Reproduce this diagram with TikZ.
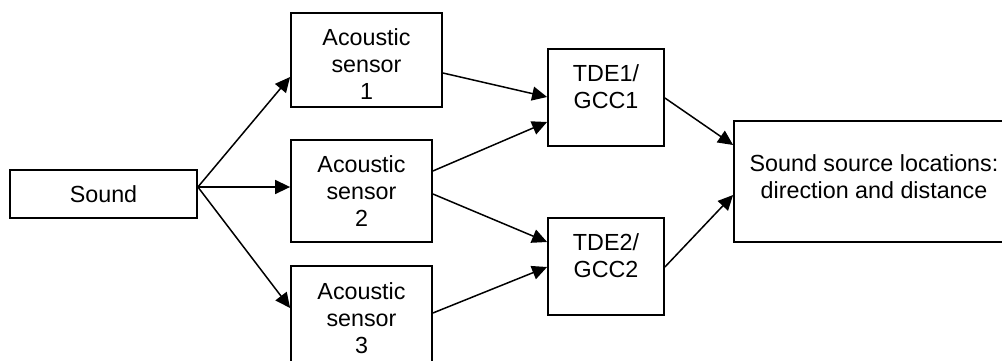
\documentclass[tikz,border=0pt]{standalone}
\usepackage{fontspec}
\setmainfont{Liberation Sans}
\usetikzlibrary{arrows.meta,calc}

\tikzset{
  blockbox/.style={draw=black, line width=1.8pt, rectangle, inner sep=0pt, fill=none},
  blocktext/.style={font=\fontsize{23.3}{27}\selectfont, align=center, inner sep=0pt, text=black},
  flow/.style={draw=black, line width=1.5pt, -{Triangle[length=15pt,width=14pt]}},
}

\begin{document}
\begin{tikzpicture}[x=1pt, y=-1pt]
  \useasboundingbox (0,0) rectangle (1002,361);
  \clip (0,0) rectangle (1002,361);

  % processing blocks
  \node[blockbox, minimum width=187pt, minimum height=48pt,
        label={[blocktext]center:Sound}] (snd) at (103.5,194) {};
  \node[blockbox, minimum width=151pt, minimum height=94pt,
        label={[blocktext, yshift=-4pt]center:Acoustic\\sensor\\1}] (s1) at (366.5,60) {};
  \node[blockbox, minimum width=141pt, minimum height=102pt,
        label={[blocktext]center:Acoustic\\sensor\\2}] (s2) at (361.5,191) {};
  \node[blockbox, minimum width=141pt, minimum height=104pt,
        label={[blocktext]center:Acoustic\\sensor\\3}] (s3) at (361.5,318) {};
  \node[blockbox, minimum width=116pt, minimum height=97pt,
        label={[blocktext, yshift=10.5pt]center:TDE1/\\GCC1}] (t1) at (606,97.5) {};
  \node[blockbox, minimum width=116pt, minimum height=97pt,
        label={[blocktext, yshift=11pt]center:TDE2/\\GCC2}] (t2) at (606,266.5) {};
  \node[blockbox, minimum width=286pt, minimum height=121pt,
        label={[blocktext, xshift=-3pt, yshift=5pt]center:Sound source locations:\\direction and distance}] (loc) at (877,181.5) {};

  % sound reaching the three sensors
  \coordinate (src) at ($(snd.east)+(0,-7)$);
  \draw[flow] (src) -- ($(s1.west)+(0,17)$);
  \draw[flow] (src) -- ($(s2.west)+(0,-4)$);
  \draw[flow] (src) -- ($(s3.west)+(0,-10)$);

  % sensor pairs feeding the delay estimators
  \draw[flow] ($(s1.east)+(0,13)$) -- ($(t1.west)+(0,-0.5)$);
  \draw[flow] ($(s2.east)+(0,-20)$) -- ($(t1.west)+(0,24.5)$);
  \draw[flow] ($(s2.east)+(0,3)$) -- ($(t2.west)+(0,-24.5)$);
  \draw[flow] ($(s3.east)+(0,-5)$) -- ($(t2.west)+(0,0.5)$);

  % estimators combined into the location result
  \draw[flow] ($(t1.east)+(0,0.5)$) -- ($(loc.west)+(0,-36.5)$);
  \draw[flow] ($(t2.east)+(0,0.5)$) -- ($(loc.west)+(0,13.5)$);
\end{tikzpicture}
\end{document}
